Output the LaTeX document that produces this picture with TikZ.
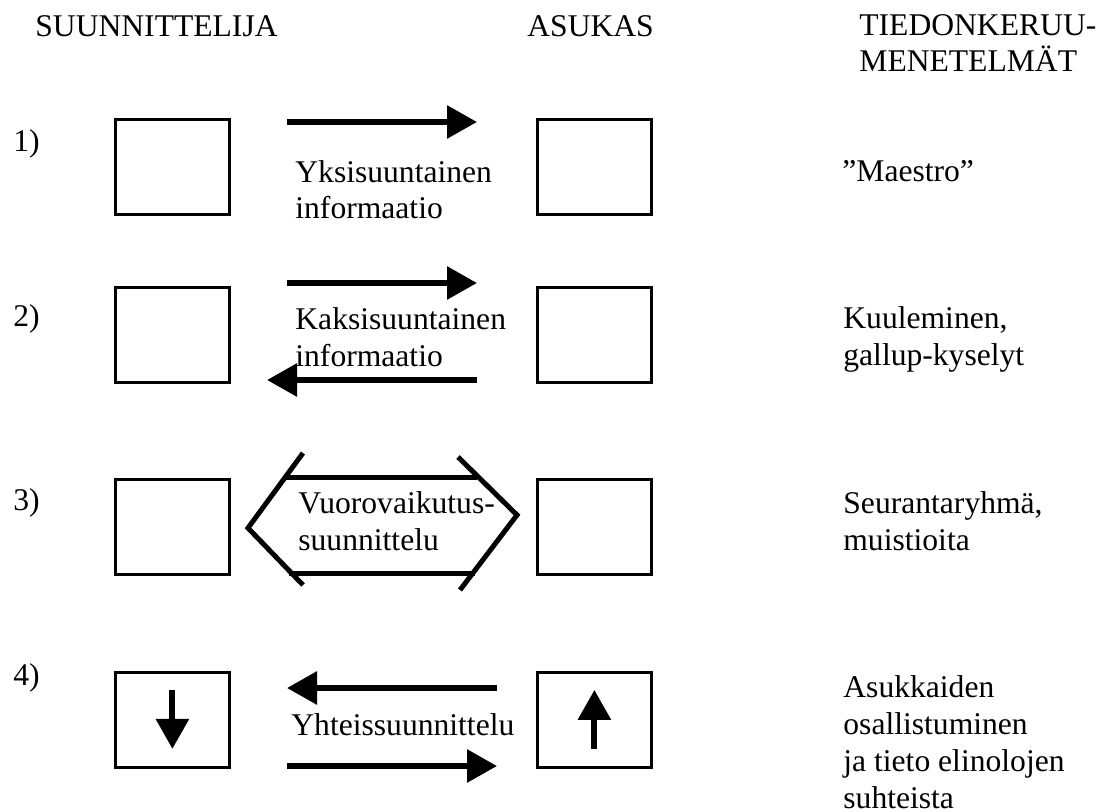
\documentclass[tikz,border=0pt]{standalone}
\usepackage{fontspec}
\setmainfont{Liberation Serif}
\usetikzlibrary{arrows.meta}

\tikzset{
  lbl/.style={anchor=base west, inner sep=0pt, align=left,
    font=\fontsize{15.8pt}{18.4pt}\selectfont},
  box/.style={draw, line width=1.4pt, anchor=north west, inner sep=0pt,
    minimum width=57pt, minimum height=47.5pt},
  fat/.style={line width=3pt, -{Triangle[length=15pt,width=16pt]}},
  hexline/.style={line width=2.5pt}
}

\begin{document}
\begin{tikzpicture}[x=0.5pt,y=-0.5pt]
	\useasboundingbox (0,0) rectangle (1107,812);

	% Column headings (multi-line labels sit on their last line)
	\node[lbl] (hsuun) at (35,37) {SUUNNITTELIJA};
	\node[lbl] (hasuk) at (527,37) {ASUKAS};
	\node[lbl] (htied) at (859,72) {TIEDONKERUU-\\MENETELMÄT};

	% Draw the boxes and the row numbers
	\foreach \r/\y in {1/118,2/286,3/478,4/671}
	{
		\node[box] (suun\r) at (114,\y) {};
		\node[box] (asuk\r) at (536,\y) {};
	}
	\foreach \r/\y in {1/152,2/327,3/510,4/685}
	\node[lbl] (num\r) at (13,\y) {\r)};

	% Row 1
	\coordinate (r1a) at (287,122);
	\coordinate (r1b) at (477,122);
	\draw[fat] (r1a) -- (r1b);
	\node[lbl] (yksi) at (295,219) {Yksisuuntainen\\informaatio};

	% Row 2
	\coordinate (r2a) at (287,283);
	\coordinate (r2b) at (477,283);
	\coordinate (r2c) at (477,380);
	\coordinate (r2d) at (267,380);
	\draw[fat] (r2a) -- (r2b);
	\draw[fat] (r2c) -- (r2d);
	\node[lbl] (kaksi) at (295,366) {Kaksisuuntainen\\informaatio};

	% Row 3, the open hexagon
	\draw[hexline] (286,477) -- (477,477);
	\draw[hexline] (289,573) -- (475,573);
	\draw[hexline] (303,453) -- (248,528) -- (303,585);
	\draw[hexline] (458,457) -- (517,515) -- (460,590);
	\node[lbl] (vuoro) at (298,550) {Vuorovaikutus-\\suunnittelu};

	% Row 4
	\coordinate (r4a) at (497,688);
	\coordinate (r4b) at (287,688);
	\coordinate (r4c) at (287,766);
	\coordinate (r4d) at (497,766);
	\draw[fat] (r4a) -- (r4b);
	\draw[fat] (r4c) -- (r4d);
	\draw[fat] ([yshift=15pt]suun4.center) -- ([yshift=-14.5pt]suun4.center);
	\draw[fat] ([yshift=-14.5pt]asuk4.center) -- ([yshift=15pt]asuk4.center);
	\node[lbl] (yhte) at (291,735) {Yhteissuunnittelu};

	% Label the methods
	\node[lbl] (maes) at (842,182) {”Maestro”};
	\node[lbl] (kuul) at (843,365) {Kuuleminen,\\gallup-kyselyt};
	\node[lbl] (seur) at (843,550) {Seurantaryhmä,\\muistioita};
	\node[lbl] (asuk) at (843,808) {Asukkaiden\\osallistuminen\\ja tieto elinolojen\\suhteista};
\end{tikzpicture}
\end{document}
